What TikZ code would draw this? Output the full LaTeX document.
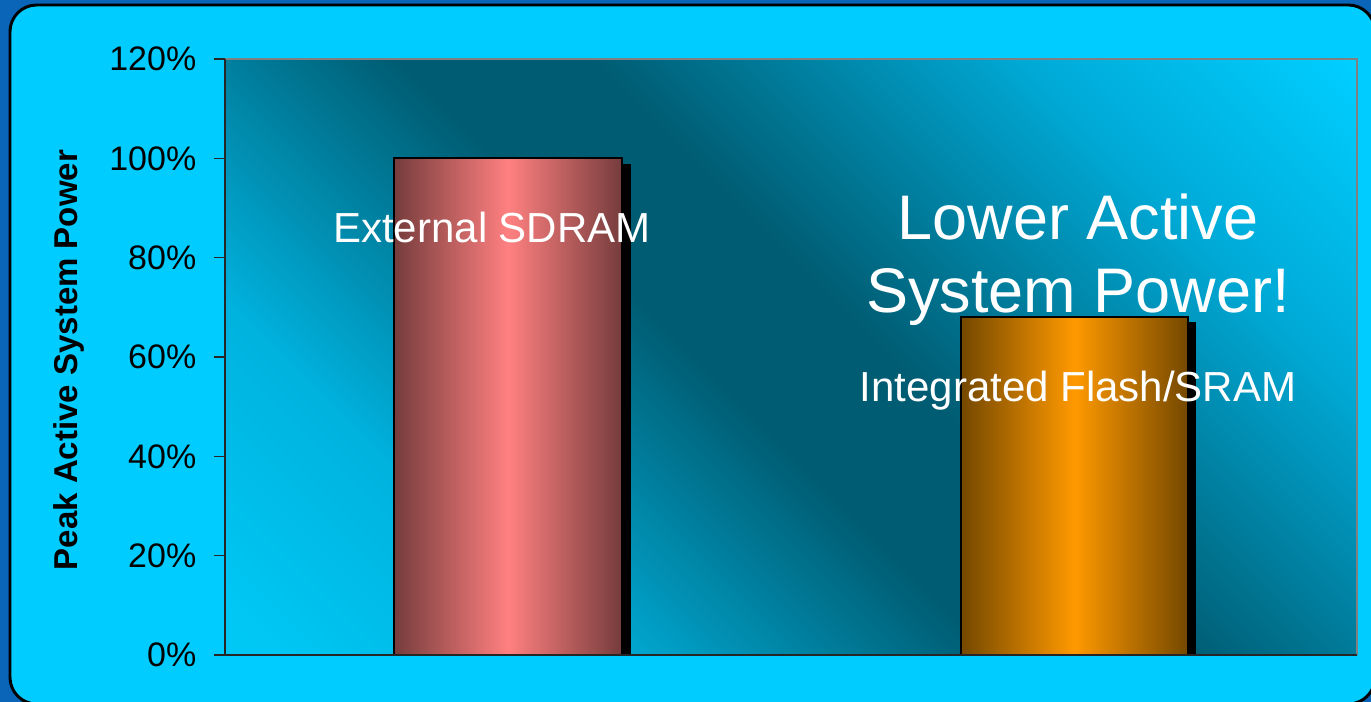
\documentclass[tikz,border=0pt]{standalone}
\usepackage{fontspec}
\setmainfont{Liberation Sans}
\definecolor{outerblue}{RGB}{10,100,184}
\definecolor{panel}{RGB}{0,204,255}
\definecolor{plotlight}{RGB}{0,200,245}
\definecolor{plotlightmid}{RGB}{0,178,222}
\definecolor{plottop}{RGB}{0,206,255}
\definecolor{plottopmid}{RGB}{0,170,215}
\definecolor{plotdark}{RGB}{0,92,114}
\definecolor{pinkdark}{RGB}{118,60,60}
\definecolor{pinklight}{RGB}{255,128,128}
\definecolor{orangedark}{RGB}{116,72,0}
\definecolor{orangelight}{RGB}{255,153,0}
\pgfdeclareverticalshading{plotbg}{100bp}{%
  color(0bp)=(plotlight); color(16bp)=(plotlight);
  color(29bp)=(plotlightmid);
  color(46bp)=(plotdark); color(54bp)=(plotdark);
  color(72bp)=(plottopmid);
  color(85bp)=(plottop); color(100bp)=(plottop)}
\tikzset{
  ticklabel/.style={anchor=east, font=\fontsize{25.5}{30}\selectfont},
  barframe/.style={draw=black, line width=1.1pt},
  barshadow/.style={fill=black},
  whitetext/.style={text=white, inner sep=0pt}
}
\begin{document}
\begin{tikzpicture}[x=0.75pt,y=-0.75pt]
\useasboundingbox (0,0) rectangle (1371,702);
% page background and rounded panel
\fill[outerblue] (0,0) rectangle (1371,702);
\filldraw[fill=panel, draw=black, line width=2.2pt, rounded corners=20pt]
  (10,5) rectangle (1375,704);
% plot area with diagonal shading
\shade[shading=plotbg, shading angle=-45] (225,59) rectangle (1357,655);
\draw[gray, line width=1.2pt] (225,59) -- (1357,59) -- (1357,655);
% bar 1: External SDRAM (100%)
\fill[barshadow] (402,164) rectangle (631,655);
\shade[left color=pinkdark, right color=pinkdark, middle color=pinklight]
  (394,158) rectangle (622,655);
\draw[barframe] (394,655) -- (394,158) -- (622,158) -- (622,655);
% bar 2: Integrated Flash/SRAM (68%)
\fill[barshadow] (969,322) rectangle (1196,655);
\shade[left color=orangedark, right color=orangedark, middle color=orangelight]
  (961,317) rectangle (1188,655);
\draw[barframe] (961,655) -- (961,317) -- (1188,317) -- (1188,655);
% axes
\coordinate (origin) at (225,655);
\coordinate (ytop) at (225,59);
\coordinate (xend) at (1357,655);
\draw[black!85, line width=1.1pt] (ytop) -- (origin) -- (xend);
\foreach \v in {0,...,6}{
  \pgfmathsetmacro{\yy}{655-\v*99.33}
  \draw[black!85, line width=1.1pt] (214,\yy) -- (225,\yy);
  \pgfmathtruncatemacro{\pc}{\v*20}
  \node[ticklabel] (tick\v) at (201,\yy) {\pc\%};
}
\node[rotate=90, anchor=base, inner sep=0pt, font=\bfseries\fontsize{24.75}{30}\selectfont]
  (ytitle) at (77,360) {Peak Active System Power};
% labels
\node[whitetext, anchor=base, font=\fontsize{31.5}{36}\selectfont]
  (sdram) at (492,243) {External SDRAM};
\node[whitetext, anchor=base, font=\fontsize{31.5}{36}\selectfont]
  (flash) at (1078,402) {Integrated Flash/SRAM};
% anchor=base sits on the last line of this two-line node
\node[whitetext, anchor=base, align=center, font=\fontsize{47.25}{55}\selectfont]
  (claim) at (1078,313) {Lower Active\\System Power!};
\end{tikzpicture}
\end{document}
